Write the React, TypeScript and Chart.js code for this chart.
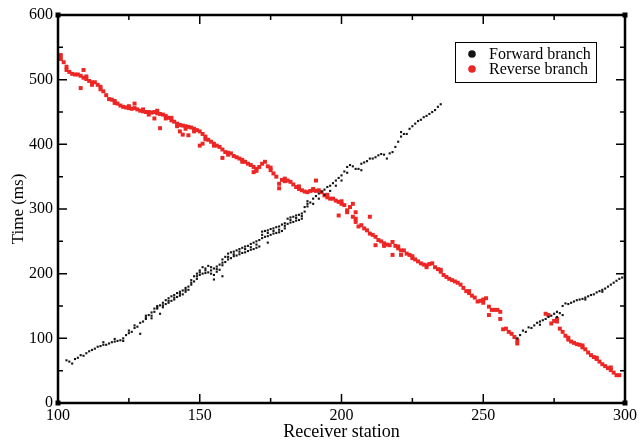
import React, { useEffect, useRef } from "react";
import { Chart, registerables } from "chart.js";

Chart.register(...registerables);

// ---- Data ----
const seriesNames = ["Forward branch", "Reverse branch"];
const xAxisTitle = "Receiver station";
const yAxisTitle = "Time (ms)";
const xTicks = [100, 150, 200, 250, 300];
const yTicks = [0, 100, 200, 300, 400, 500, 600];

const forwardStation = [
  103, 104, 105, 106, 107, 108, 109, 110, 111, 112, 113, 114, 115, 116, 116, 117, 118, 119, 120, 120,
  121, 122, 123, 123, 124, 125, 125, 126, 127, 127, 128, 129, 129, 130, 131, 131, 132, 133, 133, 134,
  134, 135, 135, 136, 136, 137, 137, 138, 138, 139, 139, 140, 140, 141, 141, 142, 142, 143, 143, 144,
  144, 145, 145, 146, 146, 147, 147, 148, 148, 149, 149, 150, 150, 151, 151, 152, 152, 153, 153, 154,
  154, 155, 155, 155, 156, 156, 157, 157, 158, 158, 158, 159, 159, 160, 160, 161, 161, 162, 162, 163,
  163, 164, 164, 165, 165, 166, 166, 167, 167, 168, 168, 169, 169, 170, 170, 171, 171, 172, 172, 173,
  173, 174, 174, 174, 175, 175, 176, 176, 177, 177, 178, 178, 179, 179, 180, 180, 181, 181, 182, 182,
  183, 183, 184, 184, 185, 185, 186, 186, 187, 187, 188, 188, 189, 190, 190, 191, 192, 192, 193, 194,
  194, 195, 196, 196, 197, 198, 198, 199, 200, 200, 201, 202, 202, 203, 204, 205, 206, 207, 207, 208,
  209, 210, 211, 212, 213, 214, 215, 216, 217, 218, 219, 220, 221, 221, 222, 223, 224, 225, 226, 227,
  228, 229, 230, 231, 232, 233, 234, 235,
  262, 263, 264, 265, 266, 267, 268, 269, 270, 271, 272, 273, 274, 275, 276, 277, 278, 278, 279, 280,
  281, 282, 283, 284, 285, 286, 287, 288, 289, 290, 291, 292, 293, 294, 295, 296, 297, 298, 299, 300,
  131, 133, 135, 137, 139, 141, 143, 145, 147, 149, 150, 152, 154, 156, 158, 160, 162, 164, 166, 168,
  170, 172, 174, 176, 178, 180, 182, 184, 186, 188, 270, 276, 286, 292,
];
const forwardTime = [
  66, 64, 61, 68, 70, 74, 73, 77, 80, 82, 84, 87, 88, 90, 94, 90, 92, 94, 95, 99,
  96, 97, 100, 96, 105, 108, 112, 110, 116, 120, 118, 107, 124, 126, 130, 135, 136, 140, 131, 146,
  141, 150, 146, 151, 138, 155, 148, 159, 153, 162, 155, 165, 158, 167, 160, 170, 164, 172, 166, 174,
  168, 178, 172, 180, 175, 190, 183, 196, 188, 200, 192, 205, 198, 210, 200, 208, 201, 212, 202, 210,
  200, 208, 198, 191, 211, 203, 214, 206, 222, 213, 196, 226, 218, 231, 222, 233, 224, 234, 227, 236,
  228, 238, 230, 240, 232, 242, 233, 243, 235, 246, 237, 248, 238, 250, 240, 252, 242, 265, 255, 266,
  257, 267, 258, 248, 269, 260, 270, 262, 272, 263, 273, 264, 276, 266, 278, 270, 285, 277, 287, 279,
  288, 280, 290, 282, 291, 283, 293, 285, 303, 296, 312, 304, 310, 316, 308, 320, 324, 316, 327, 330,
  322, 334, 336, 328, 340, 344, 336, 348, 352, 344, 358, 365, 356, 368, 366, 362, 362, 360, 370, 372,
  374, 378, 378, 380, 383, 385, 384, 378, 386, 388, 396, 404, 412, 419, 416, 416, 424, 428, 432, 436,
  438, 442, 444, 447, 450, 453, 458, 462,
  100, 105, 112, 110, 117, 116, 120, 124, 126, 128, 130, 133, 135, 138, 141, 139, 136, 150, 154, 153,
  155, 157, 159, 160, 161, 163, 165, 167, 168, 171, 173, 175, 177, 180, 183, 186, 189, 192, 194, 196,
  132, 135, 148, 151, 158, 163, 169, 175, 186, 196, 202, 205, 205, 207, 217, 226, 230, 234, 238, 241,
  245, 260, 263, 266, 268, 274, 283, 286, 289, 308, 121, 133, 160, 172,
];

const reverseStation = [
  101, 101, 102, 103, 103, 104, 105, 106, 107, 108, 108, 109, 109, 110, 111, 112, 113, 114, 115, 116,
  117, 118, 119, 120, 121, 122, 123, 124, 125, 126, 127, 127, 128, 129, 130, 131, 132, 133, 134, 134,
  135, 136, 136, 137, 138, 139, 140, 141, 142, 143, 143, 144, 144, 145, 146, 146, 147, 148, 149, 150,
  150, 151, 151, 152, 153, 154, 155, 156, 157, 158, 158, 159, 160, 161, 162, 163, 164, 165, 166, 167,
  168, 169, 169, 170, 171, 172, 173, 174, 175, 176, 177, 178, 178, 179, 180, 181, 182, 183, 184, 185,
  186, 187, 188, 189, 190, 191, 191, 192, 193, 194, 195, 196, 197, 198, 199, 199, 200, 201, 202, 202,
  203, 204, 204, 205, 205, 206, 207, 208, 209, 210, 210, 211, 212, 212, 213, 214, 215, 216, 217, 218,
  218, 219, 220, 221, 221, 222, 223, 224, 225, 226, 227, 228, 229, 230, 231, 232, 233, 234, 235, 236,
  237, 238, 239, 240, 241, 242, 243, 244, 245, 246, 247, 248, 249, 250, 251, 252, 252, 253, 254, 255,
  256, 256, 257, 258, 259, 260, 261, 262, 262,
  272, 273, 274, 275, 276, 277, 278, 279, 280, 281, 282, 283, 284, 285, 286, 287, 288, 289, 290, 291,
  292, 293, 294, 295, 296, 297, 298,
  110, 112, 115, 120, 125, 130, 132, 135, 138, 140, 142, 145, 148, 152, 155, 160, 165, 170, 175, 180,
  185, 190, 195, 200, 205, 215, 220, 225, 230, 235, 245, 250, 276, 280, 285, 290, 295,
];
const reverseTime = [
  538, 532, 527, 520, 515, 512, 509, 508, 508, 506, 487, 515, 503, 501, 498, 496, 496, 492, 489, 482,
  476, 470, 469, 467, 463, 460, 458, 457, 456, 455, 463, 456, 454, 452, 451, 450, 450, 449, 450, 440,
  448, 447, 425, 446, 444, 441, 437, 435, 432, 430, 420, 429, 415, 428, 414, 427, 426, 424, 422, 420,
  398, 416, 401, 412, 407, 404, 401, 398, 396, 392, 379, 388, 387, 386, 382, 380, 378, 376, 373, 370,
  368, 357, 365, 362, 365, 370, 373, 366, 360, 355, 350, 339, 332, 345, 347, 344, 342, 338, 334, 331,
  329, 327, 326, 328, 331, 344, 328, 329, 326, 321, 318, 316, 316, 313, 311, 290, 308, 306, 298, 295,
  303, 308, 288, 280, 295, 273, 275, 270, 267, 288, 262, 260, 257, 244, 252, 250, 247, 245, 244, 249,
  229, 243, 239, 236, 229, 236, 231, 229, 224, 222, 219, 216, 214, 213, 215, 216, 210, 207, 203, 198,
  195, 192, 190, 188, 186, 183, 178, 173, 170, 166, 163, 157, 158, 160, 162, 149, 136, 144, 144, 144,
  130, 141, 114, 115, 110, 107, 102, 97, 92,
  138, 136, 123, 127, 126, 115, 110, 104, 98, 95, 93, 91, 90, 86, 83, 78, 74, 71, 68, 64,
  60, 57, 54, 51, 47, 43, 43,
  505, 492, 485, 464, 459, 454, 446, 452, 440, 441, 428, 424, 420, 408, 398, 384, 373, 359, 364, 343,
  335, 329, 322, 312, 285, 243, 242, 227, 210, 206, 173, 155, 130, 101, 89, 70, 55,
];

const FONT = "'Liberation Serif', 'Times New Roman', serif";
const RED = "rgb(236, 38, 36)";
const BLACK = "rgb(20, 20, 20)";

const toPoints = (xs: number[], ys: number[]) => xs.map((x, i) => ({ x, y: ys[i] }));

// Frame, inward ticks (major + minor) on all four sides, and the boxed legend
const framePlugin = {
  id: "frame",
  afterDatasetsDraw(chart: any) {
    const { ctx, chartArea, scales } = chart;
    const { left, right, top, bottom } = chartArea;
    const xs = scales.x;
    const ys = scales.y;
    ctx.save();
    ctx.strokeStyle = "#000";
    ctx.lineWidth = 1.5;
    for (let v = xs.min; v <= xs.max; v += 25) {
      const px = xs.getPixelForValue(v);
      const len = v % 50 === 0 ? 9 : 5;
      ctx.beginPath();
      ctx.moveTo(px, bottom);
      ctx.lineTo(px, bottom - len);
      ctx.moveTo(px, top);
      ctx.lineTo(px, top + len);
      ctx.stroke();
    }
    for (let v = ys.min; v <= ys.max; v += 50) {
      const py = ys.getPixelForValue(v);
      const len = v % 100 === 0 ? 9 : 5;
      ctx.beginPath();
      ctx.moveTo(left, py);
      ctx.lineTo(left + len, py);
      ctx.moveTo(right, py);
      ctx.lineTo(right - len, py);
      ctx.stroke();
    }
    ctx.lineWidth = 2.5;
    ctx.strokeRect(left, top, right - left, bottom - top);
    ctx.fillStyle = "#000";
    [[left, top], [right, top], [left, bottom], [right, bottom]].forEach(([cx, cy]) => {
      ctx.fillRect(cx - 2.5, cy - 2.5, 5, 5);
    });

    // legend box
    const bx = right - 170;
    const by = top + 27;
    const bw = 141;
    const bh = 40;
    ctx.fillStyle = "#fff";
    ctx.fillRect(bx, by, bw, bh);
    ctx.lineWidth = 1;
    ctx.strokeStyle = "#000";
    ctx.strokeRect(bx + 0.5, by + 0.5, bw, bh);
    ctx.font = `16px ${FONT}`;
    ctx.textBaseline = "middle";
    ctx.textAlign = "left";
    chart.data.datasets.forEach((ds: any, i: number) => {
      const cy = by + 12 + i * 15;
      ctx.beginPath();
      ctx.fillStyle = ds.backgroundColor;
      ctx.arc(bx + 17, cy, 3.8, 0, Math.PI * 2);
      ctx.fill();
      ctx.fillStyle = "#000";
      ctx.fillText(ds.label, bx + 34, cy + 1);
    });
    ctx.restore();
  },
};

export default function App() {
  const canvasRef = useRef<HTMLCanvasElement | null>(null);

  useEffect(() => {
    if (!canvasRef.current) return;
    const chart = new Chart(canvasRef.current, {
      type: "scatter",
      data: {
        datasets: [
          {
            label: seriesNames[0],
            data: toPoints(forwardStation, forwardTime),
            backgroundColor: BLACK,
            borderColor: BLACK,
            pointStyle: "rect",
            pointRadius: 1.5,
            pointBorderWidth: 0,
          },
          {
            label: seriesNames[1],
            data: toPoints(reverseStation, reverseTime),
            backgroundColor: RED,
            borderColor: RED,
            pointStyle: "rect",
            pointRadius: 2.8,
            pointBorderWidth: 0,
          },
        ],
      },
      options: {
        animation: false,
        responsive: true,
        maintainAspectRatio: false,
        layout: { padding: { left: 0, right: 14, top: 15, bottom: 0 } },
        plugins: {
          legend: { display: false },
          tooltip: { enabled: false },
        },
        scales: {
          x: {
            type: "linear",
            min: 100,
            max: 300,
            afterFit: (s: any) => {
              s.height = 41;
            },
            afterBuildTicks: (s: any) => {
              s.ticks = xTicks.map((v) => ({ value: v }));
            },
            grid: { display: false, drawTicks: false },
            border: { display: false },
            ticks: {
              padding: 3,
              color: "#000",
              font: { family: FONT, size: 16 },
            },
            title: {
              display: true,
              text: xAxisTitle,
              color: "#000",
              font: { family: FONT, size: 18 },
              padding: { top: 0, bottom: 1 },
            },
          },
          y: {
            type: "linear",
            min: 0,
            max: 600,
            afterFit: (s: any) => {
              s.width = 58;
            },
            afterBuildTicks: (s: any) => {
              s.ticks = yTicks.map((v) => ({ value: v }));
            },
            grid: { display: false, drawTicks: false },
            border: { display: false },
            ticks: {
              padding: 5,
              color: "#000",
              font: { family: FONT, size: 16 },
            },
            title: {
              display: true,
              text: yAxisTitle,
              color: "#000",
              font: { family: FONT, size: 17 },
              padding: { top: 8, bottom: 0 },
            },
          },
        },
      },
      plugins: [framePlugin],
    });
    return () => chart.destroy();
  }, []);

  return (
    <div style={{ position: "fixed", left: 0, top: 0, width: 640, height: 444, background: "#fff" }}>
      <canvas ref={canvasRef} />
    </div>
  );
}
